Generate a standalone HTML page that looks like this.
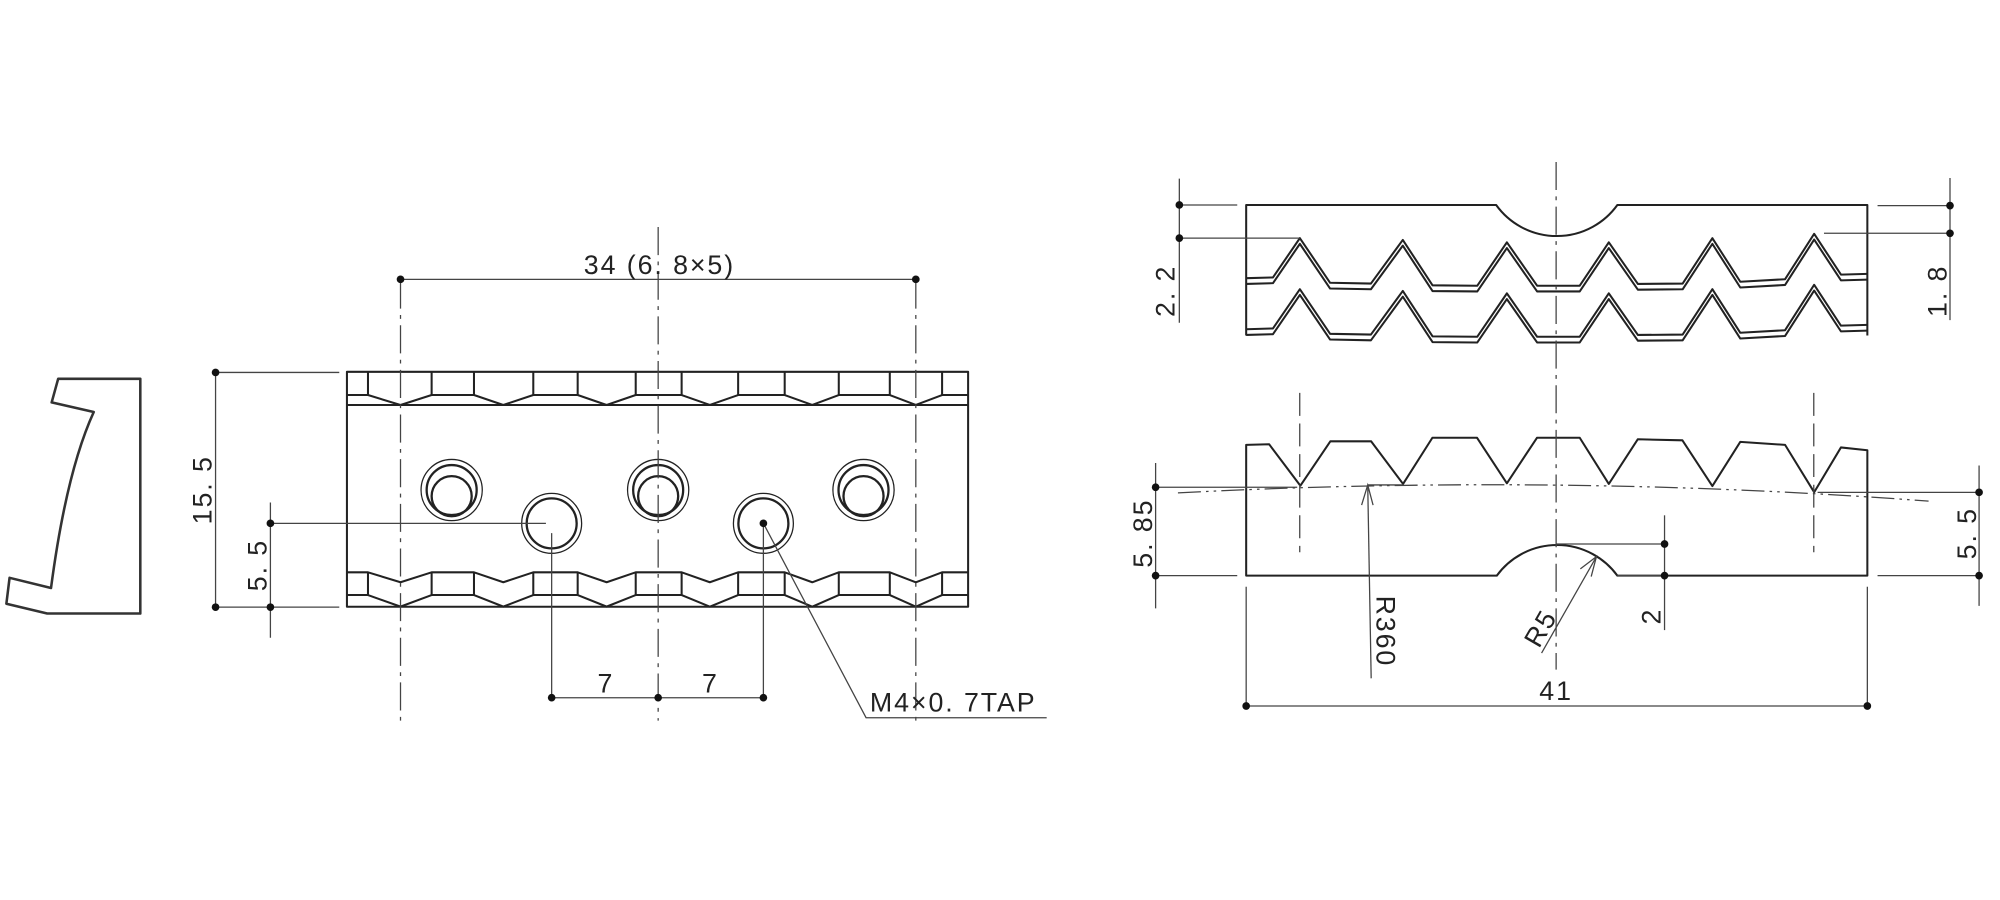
<!DOCTYPE html>
<html><head><meta charset="utf-8"><style>
html,body{margin:0;padding:0;background:#fff}
svg{display:block}
text{font-family:"Liberation Sans","DejaVu Sans",sans-serif;fill:#222;font-size:21px;letter-spacing:1.5px}
</style></head><body>
<svg width="2000" height="900" viewBox="0 0 1568 705.6" xmlns="http://www.w3.org/2000/svg">
<g fill="none" stroke="#222" stroke-width="1.6" stroke-linejoin="round">
<!-- left profile -->
<path d="M45.6,297 L110,297 L110,481 L37,481 L5,473.3 L7.5,453 L40,461 Q52,370 73.5,323 L40.5,315.5 Z" stroke="#333" stroke-width="2"/>
<!-- main plate -->
<rect x="272" y="291.5" width="487" height="184.2"/>
<line x1="272" y1="317.5" x2="759" y2="317.5"/>
<!-- top band -->
<polyline points="272,309.7 288.5,309.7 314,317.5 338.4,309.7 371.6,309.7 394.6,317.5 418.1,309.7 452.9,309.7 475.6,317.5 498.4,309.7 534.4,309.7 556.5,317.5 578.7,309.7 615.2,309.7 636.8,317.5 657.6,309.7 697.6,309.7 718,317.5 738.6,309.7 759,309.7"/>
<path d="M288.5,291.5V309.7 M338.4,291.5V309.7 M371.6,291.5V309.7 M418.1,291.5V309.7 M452.9,291.5V309.7 M498.4,291.5V309.7 M534.4,291.5V309.7 M578.7,291.5V309.7 M615.2,291.5V309.7 M657.6,291.5V309.7 M697.6,291.5V309.7 M738.6,291.5V309.7"/>
<!-- bottom band -->
<polyline points="272,448.7 288.5,448.7 314,456.5 338.4,448.7 371.6,448.7 394.6,456.5 418.1,448.7 452.9,448.7 475.6,456.5 498.4,448.7 534.4,448.7 556.5,456.5 578.7,448.7 615.2,448.7 636.8,456.5 657.6,448.7 697.6,448.7 718,456.5 738.6,448.7 759,448.7"/>
<polyline points="272,466.5 288.5,466.5 314,475.6 338.4,466.5 371.6,466.5 394.6,475.6 418.1,466.5 452.9,466.5 475.6,475.6 498.4,466.5 534.4,466.5 556.5,475.6 578.7,466.5 615.2,466.5 636.8,475.6 657.6,466.5 697.6,466.5 718,475.6 738.6,466.5 759,466.5"/>
<path d="M288.5,448.7V466.5 M338.4,448.7V466.5 M371.6,448.7V466.5 M418.1,448.7V466.5 M452.9,448.7V466.5 M498.4,448.7V466.5 M534.4,448.7V466.5 M578.7,448.7V466.5 M615.2,448.7V466.5 M657.6,448.7V466.5 M697.6,448.7V466.5 M738.6,448.7V466.5"/>
<!-- holes -->
<g stroke-width="1">
<circle cx="354.1" cy="384.2" r="24"/><circle cx="516" cy="384.2" r="24"/><circle cx="677" cy="384.2" r="24"/>
<circle cx="432.5" cy="410.3" r="23.5"/><circle cx="598.5" cy="410.3" r="23.5"/>
</g>
<g stroke-width="1.8">
<circle cx="354.1" cy="384.2" r="19.6"/><circle cx="516" cy="384.2" r="19.6"/><circle cx="677" cy="384.2" r="19.6"/>
<circle cx="354.1" cy="389" r="15.7"/><circle cx="516" cy="389" r="15.7"/><circle cx="677" cy="389" r="15.7"/>
<circle cx="432.5" cy="410.3" r="19.6"/><circle cx="598.5" cy="410.3" r="19.6"/>
</g>

<!-- right top view -->
<path d="M977,263 V160.7 H1173 A58.5,58.5 0 0 0 1268,160.7 H1464 V263"/>
<g id="w1">
<polyline points="977,218.1 998,217.5 1019.1,186.7 1042.8,221.7 1074.8,222.3 1099.8,188.1 1123.1,223.7 1158.2,224 1181.4,190 1205.1,224 1238.5,224 1261.3,190 1284.1,222.6 1319.2,222.3 1342.5,186.7 1364.4,220.9 1399.5,218.9 1422.3,183.3 1443.3,215.3 1464,214.7"/>
<polyline transform="translate(0,4.5)" points="977,218.1 998,217.5 1019.1,186.7 1042.8,221.7 1074.8,222.3 1099.8,188.1 1123.1,223.7 1158.2,224 1181.4,190 1205.1,224 1238.5,224 1261.3,190 1284.1,222.6 1319.2,222.3 1342.5,186.7 1364.4,220.9 1399.5,218.9 1422.3,183.3 1443.3,215.3 1464,214.7"/>
</g>
<use href="#w1" transform="translate(0,40)"/>

<!-- right bottom view -->
<path d="M977,451.3 V348.8 L995,348.3 L1019.5,380.8 L1043,346 L1075,346 L1100,379.4 L1123,343.2 L1158,343.2 L1181.4,378.9 L1205,343.2 L1238.5,343.2 L1261.3,379.4 L1284,344.4 L1319,345.2 L1342.5,381.1 L1364.4,346.4 L1399.5,348.8 L1422.3,385.9 L1443.3,350.8 L1464,353 V451.3 H1268 A58.5,58.5 0 0 0 1173.5,451.3 H977 Z"/>
</g>

<!-- thin lines -->
<g fill="none" stroke="#444" stroke-width="1">
<g stroke-dasharray="22,5,3,5">
<line x1="314" y1="220" x2="314" y2="565"/>
<line x1="516" y1="178" x2="516" y2="565"/>
<line x1="718" y1="220" x2="718" y2="565"/>
<line x1="1220" y1="127" x2="1220" y2="525"/>
<path d="M923.5,386.4 Q1221,371 1512,392.9" stroke-dasharray="18,4,2,4,2,4"/>
</g>
<g stroke-dasharray="18,6">
<line x1="1019" y1="308" x2="1019" y2="433"/>
<line x1="1422" y1="308" x2="1422" y2="433"/>
</g>
<line x1="314" y1="219" x2="718" y2="219"/>
<line x1="169" y1="292" x2="169" y2="476"/>
<line x1="169" y1="292" x2="266" y2="292"/>
<line x1="169" y1="476" x2="266" y2="476"/>
<line x1="212" y1="394" x2="212" y2="500"/>
<line x1="212" y1="410.3" x2="428" y2="410.3"/>
<line x1="432.5" y1="418" x2="432.5" y2="547"/>
<line x1="598.5" y1="410" x2="598.5" y2="547"/>
<line x1="432.5" y1="547" x2="598.5" y2="547"/>
<polyline points="598.5,410.3 679,562.7 820.6,562.7"/>
<line x1="924.6" y1="140" x2="924.6" y2="253"/>
<line x1="924.6" y1="160.7" x2="970" y2="160.7"/>
<line x1="924.6" y1="186.7" x2="1019" y2="186.7"/>
<line x1="1528.8" y1="139.6" x2="1528.8" y2="251"/>
<line x1="1472" y1="161.2" x2="1528.8" y2="161.2"/>
<line x1="1430" y1="182.9" x2="1528.8" y2="182.9"/>
<line x1="906" y1="363" x2="906" y2="477"/>
<line x1="906" y1="382" x2="1017" y2="382"/>
<line x1="906" y1="451.3" x2="970" y2="451.3"/>
<line x1="1551.6" y1="365" x2="1551.6" y2="475"/>
<line x1="1425" y1="386" x2="1551.6" y2="386"/>
<line x1="1472" y1="451.3" x2="1551.6" y2="451.3"/>
<line x1="1220" y1="426.5" x2="1305" y2="426.5"/>
<line x1="1305" y1="404" x2="1305" y2="494"/>
<line x1="1268" y1="451.3" x2="1305" y2="451.3"/>
<line x1="977" y1="460" x2="977" y2="553.5"/>
<line x1="1464" y1="460" x2="1464" y2="553.5"/>
<line x1="977" y1="553.5" x2="1464" y2="553.5"/>
<line x1="1072.3" y1="380.2" x2="1075" y2="531.8"/>
<line x1="1072.3" y1="380.2" x2="1100" y2="380.2"/>
<polyline points="1067.5,396 1072.3,380.2 1076.5,396"/>
<line x1="1251.6" y1="436.4" x2="1208.6" y2="512"/>
<polyline points="1239,446 1251.6,436.4 1247.5,452"/>
</g>

<g fill="#111">
<circle cx="314" cy="219" r="3"/><circle cx="718" cy="219" r="3"/>
<circle cx="169" cy="292" r="3"/><circle cx="169" cy="476" r="3"/>
<circle cx="212" cy="410.3" r="3"/><circle cx="212" cy="476" r="3"/>
<circle cx="432.5" cy="547" r="3"/><circle cx="516" cy="547" r="3"/><circle cx="598.5" cy="547" r="3"/>
<circle cx="598.5" cy="410.3" r="3"/>
<circle cx="924.6" cy="160.7" r="3"/><circle cx="924.6" cy="186.7" r="3"/>
<circle cx="1528.8" cy="161.2" r="3"/><circle cx="1528.8" cy="182.9" r="3"/>
<circle cx="906" cy="382" r="3"/><circle cx="906" cy="451.3" r="3"/>
<circle cx="1551.6" cy="386" r="3"/><circle cx="1551.6" cy="451.3" r="3"/>
<circle cx="1305" cy="426.5" r="3"/><circle cx="1305" cy="451.3" r="3"/>
<circle cx="977" cy="553.5" r="3"/><circle cx="1464" cy="553.5" r="3"/>
</g>

<text x="517" y="215" text-anchor="middle">34 (6. 8×5)</text>
<text x="475" y="543" text-anchor="middle">7</text>
<text x="557" y="543" text-anchor="middle">7</text>
<text x="682" y="558">M4×0. 7TAP</text>
<text transform="translate(166,384) rotate(-90)" text-anchor="middle">15. 5</text>
<text transform="translate(209,443) rotate(-90)" text-anchor="middle">5. 5</text>
<text transform="translate(921,228) rotate(-90)" text-anchor="middle">2. 2</text>
<text transform="translate(1526,228) rotate(-90)" text-anchor="middle">1. 8</text>
<text transform="translate(903,418) rotate(-90)" text-anchor="middle">5. 85</text>
<text transform="translate(1549,418) rotate(-90)" text-anchor="middle">5. 5</text>
<text transform="translate(1302,483) rotate(-90)" text-anchor="middle">2</text>
<text transform="translate(1079,495) rotate(90)" text-anchor="middle">R360</text>
<text transform="translate(1214,496) rotate(-60)" text-anchor="middle">R5</text>
<text x="1220" y="549" text-anchor="middle">41</text>
</svg>
</body></html>
